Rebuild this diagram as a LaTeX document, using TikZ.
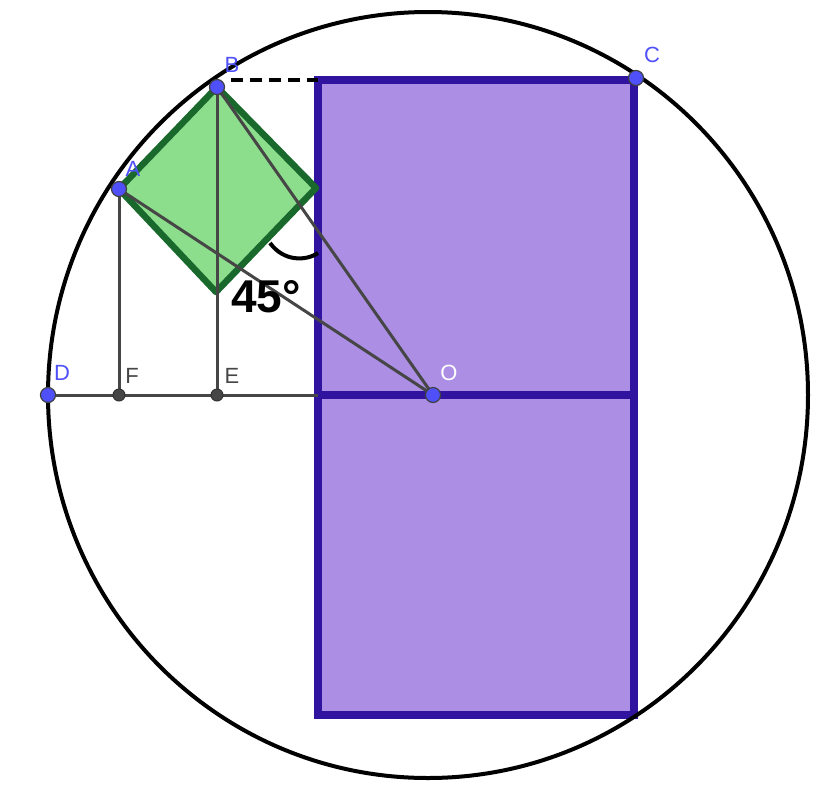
\documentclass[tikz,border=0pt]{standalone}
\usepackage{fontspec}
\setsansfont{Liberation Sans}

\definecolor{ptblue}{RGB}{80,80,250}
\definecolor{lavender}{RGB}{172,142,228}
\definecolor{rectedge}{RGB}{48,20,160}
\definecolor{sqfill}{RGB}{140,222,140}
\definecolor{sqedge}{RGB}{25,105,45}
\definecolor{segray}{RGB}{70,70,70}

\tikzset{
  seg/.style={segray, line width=3pt},
  bluept/.style={circle, fill=ptblue, draw=black!75, line width=1.2pt, inner sep=0pt, minimum size=15pt},
  graypt/.style={circle, fill=segray, draw=black!80, line width=1pt, inner sep=0pt, minimum size=12pt},
  lbl/.style={text=ptblue, font=\sffamily\fontsize{22}{22}\selectfont, inner sep=0pt},
}

\begin{document}
\begin{tikzpicture}[x=1pt, y=-1pt]
			\useasboundingbox (0,0) rectangle (828,807);
			% точки
			\coordinate (O) at (433,395);
			\coordinate (A) at (119,189);
			\coordinate (B) at (217,87);
			\coordinate (C) at (636,78);
			\coordinate (D) at (48,395);
			\coordinate (E) at (217,395);
			\coordinate (F) at (119,395);
			\coordinate (R) at (316,188);
			\coordinate (Q) at (216,292);
			\coordinate (K) at (318,80);
			% прямоугольник
			\filldraw[fill=lavender, draw=rectedge, line width=8pt] (318,80) rectangle (634,715);
			\draw[rectedge, line width=8pt] (318,395) -- (634,395);
			% квадрат
			\filldraw[fill=sqfill, draw=sqedge, line width=6.5pt, line join=round] (A) -- (B) -- (R) -- (Q) -- cycle;
			% окружность
			\draw[line width=4pt] (428,395) circle[x radius=380pt, y radius=383pt];
			% отрезки
			\draw[seg] (A) -- (F);
			\draw[seg] (B) -- (E);
			\draw[seg] (A) -- (O);
			\draw[seg] (B) -- (O);
			\draw[seg] (D) -- (K |- D);
			\draw[black, line width=3.5pt, dash pattern=on 12pt off 7pt] (B |- K) ++(14,0) -- (K);
			% угол
			\draw[line width=4pt] (270,243) .. controls (284,262) and (306,261) .. (318,253);
			\node[font=\sffamily\bfseries\fontsize{46}{46}\selectfont, inner sep=0pt] (ang) at (266,297) {45°};
			% маркеры
			\foreach \p in {A,B,C,D,O} \node[bluept] at (\p) {};
			\foreach \p in {E,F} \node[graypt] at (\p) {};
			% подписи
			\node[lbl] (lA) at (133,169) {A};
			\node[lbl] (lB) at (232,65) {B};
			\node[lbl] (lC) at (652,55) {C};
			\node[lbl] (lD) at (62,373) {D};
			\node[lbl, text=segray] (lF) at (132,376) {F};
			\node[lbl, text=segray] (lE) at (232,376) {E};
			\node[lbl, text=white] (lO) at (449,373) {O};
		\end{tikzpicture}
\end{document}
